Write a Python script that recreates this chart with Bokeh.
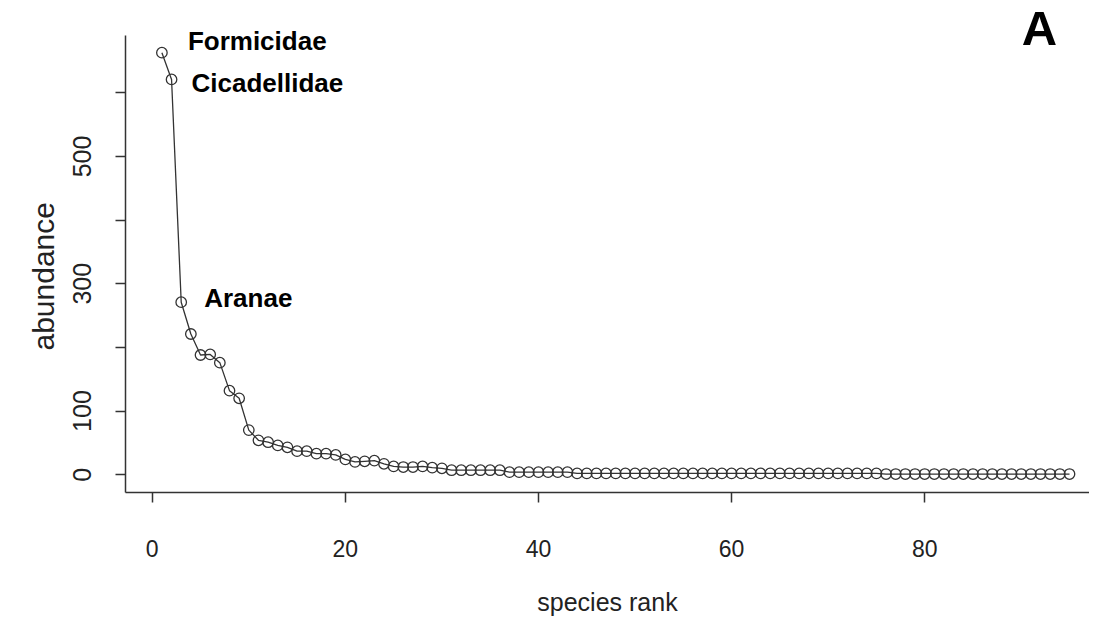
from bokeh.plotting import figure
from bokeh.models import Range1d, FixedTicker, ColumnDataSource, Title
from bokeh.core.properties import value
from bokeh.embed import file_html
from bokeh.resources import INLINE

# ---- data ----
ranks = list(range(1, 96))
abundance = [663, 621, 271, 221, 188, 189, 176, 132, 120, 70,
             54, 51, 46, 43, 37, 37, 33, 33, 31, 24,
             20, 21, 22, 17, 13, 12, 12, 13, 11, 10,
             7, 7, 7, 7, 7, 7, 4, 4, 4, 4,
             4, 4, 4, 2, 2, 2, 2, 2, 2, 2,
             2, 2, 2, 2, 2, 2, 2, 2, 2, 2,
             2, 2, 2, 2, 2, 2, 2, 2, 2, 2,
             2, 2, 2, 2, 2, 1, 1, 1, 1, 1,
             1, 1, 1, 1, 1, 1, 1, 1, 1, 1,
             1, 1, 1, 1, 1]
taxa = ["Formicidae", "Cicadellidae", "Aranae"]
taxa_rank = [1, 2, 3]
x_ticks = [0, 20, 40, 60, 80]
y_ticks = [0, 100, 200, 300, 400, 500, 600]
y_tick_labels = {200: "", 400: "", 600: ""}
panel_letter = "A"
x_title = "species rank"
y_title = "abundance"

FONT = "Liberation Sans"
INK = "#222222"
LINE = "#333333"

# R-style axis extent (box) and the plotting range (extra room on top for labels)
y_box = (-28, 690)
x_lo, x_hi = -2.77, 97.07

p = figure(width=1089, height=618,
           x_range=Range1d(x_lo, x_hi), y_range=Range1d(y_box[0], 745),
           output_backend="svg", toolbar_location=None,
           min_border_left=125, min_border_right=0,
           min_border_top=0, min_border_bottom=126)
p.outline_line_color = None
p.xgrid.visible = False
p.ygrid.visible = False
p.background_fill_color = "white"
p.border_fill_color = "white"

p.line(ranks, abundance, line_color=LINE, line_width=1.3)
p.scatter(ranks, abundance, marker="circle", size=10.5, fill_color=None,
          line_color=LINE, line_width=1.3)

lab_x_off = [26, 20, 23]
lab_y_off = [-12, 4, -4]
src = ColumnDataSource(dict(x=taxa_rank,
                            y=[abundance[r - 1] for r in taxa_rank],
                            t=taxa, xo=lab_x_off, yo=lab_y_off))
p.text(x="x", y="y", text="t", x_offset="xo", y_offset="yo", source=src,
       text_font=value(FONT), text_font_style="bold", text_font_size="26px",
       text_baseline="middle", text_align="left", text_color="black")

p.text(x=[x_hi], y=[y_box[1]], text=[panel_letter], x_offset=-50, y_offset=-8,
       text_font=value(FONT), text_font_style="bold", text_font_size="49px",
       text_baseline="middle", text_align="center", text_color="black")

for ax in (p.xaxis[0], p.yaxis[0]):
    ax.axis_line_color = LINE
    ax.axis_line_width = 1.5
    ax.major_tick_line_color = LINE
    ax.major_tick_line_width = 1.5
    ax.major_tick_in = 0
    ax.major_tick_out = 10
    ax.minor_tick_line_color = None
    ax.major_label_text_font = FONT
    ax.major_label_text_color = INK
    ax.axis_label_text_font = FONT
    ax.axis_label_text_font_style = "normal"
    ax.axis_label_text_color = INK

p.yaxis[0].bounds = y_box
p.xaxis[0].ticker = FixedTicker(ticks=x_ticks)
p.yaxis[0].ticker = FixedTicker(ticks=y_ticks)
p.yaxis[0].major_label_overrides = y_tick_labels
p.yaxis[0].major_label_orientation = "vertical"
p.xaxis[0].axis_label = x_title
p.xaxis[0].major_label_text_font_size = "23px"
p.yaxis[0].major_label_text_font_size = "25px"
p.xaxis[0].axis_label_text_font_size = "25px"
p.xaxis[0].major_label_standoff = 37
p.xaxis[0].axis_label_standoff = 28
p.yaxis[0].major_label_standoff = 24

p.add_layout(Title(text=y_title, align="left", offset=142, standoff=18,
                   vertical_align="top",
                   text_font=FONT, text_font_size="30px",
                   text_font_style="normal", text_color=INK), "left")

open("out.html", "w").write(file_html(p, INLINE))
